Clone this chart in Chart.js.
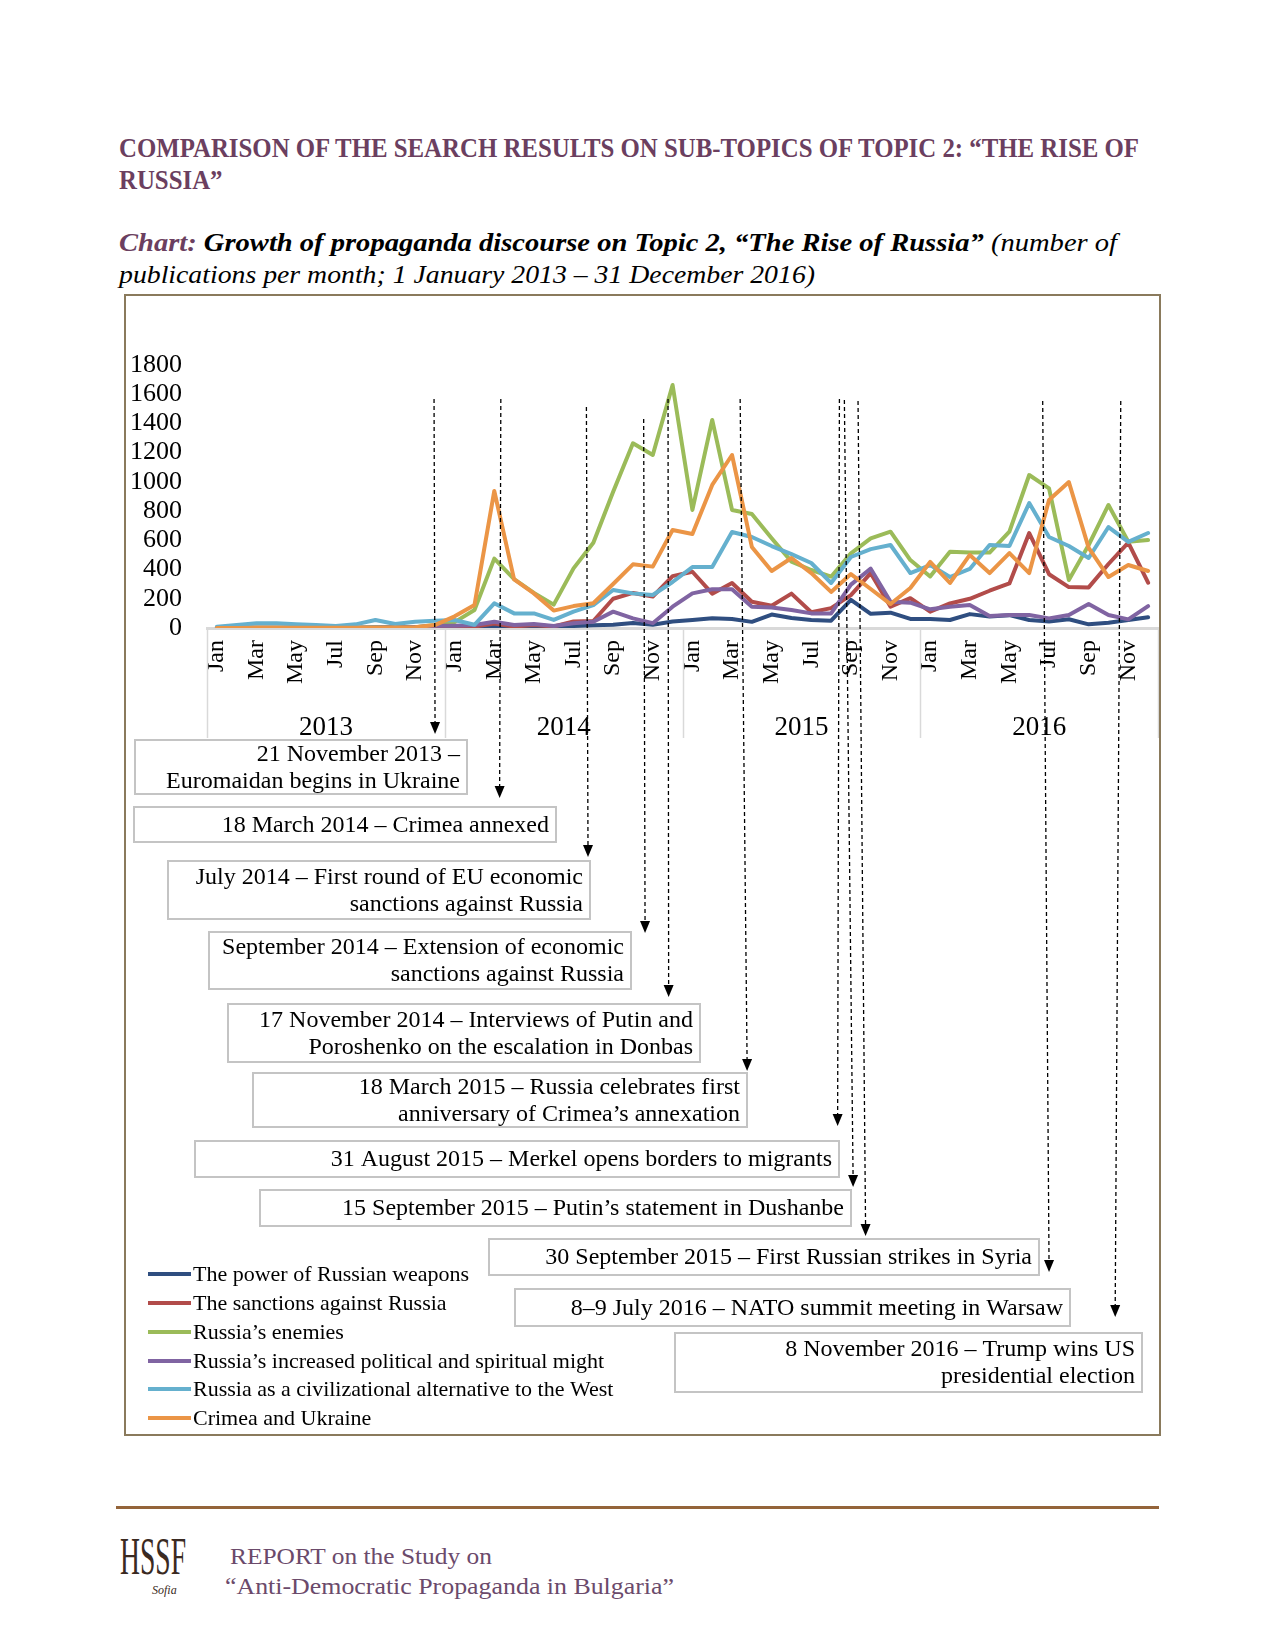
<!DOCTYPE html>
<html>
<head>
<meta charset="utf-8">
<script src="https://cdn.jsdelivr.net/npm/chart.js@4.4.1/dist/chart.umd.min.js"></script>
<style>
  body { margin: 0; background: #fff; width: 1275px; height: 1650px; position: relative; overflow: hidden; font-family: "Liberation Serif", serif; }
  .t { position: absolute; white-space: nowrap; transform-origin: 0 50%; }
  #box { position: absolute; left: 124px; top: 294px; width: 1037px; height: 1142px; border: 2px solid #8a7a5c; box-sizing: border-box; }
  #c { position: absolute; left: 126px; top: 296px; }
  #rule { position: absolute; left: 116px; top: 1506px; width: 1043px; height: 3px; background: #94643a; }
</style>
</head>
<body>
<div class="t" id="title1" data-w="1020" style="left:119px;top:131px;font:bold 27px/34px 'Liberation Serif';color:#6b3f60">COMPARISON OF THE SEARCH RESULTS ON SUB-TOPICS OF TOPIC 2: “THE RISE OF</div>
<div class="t" id="title2" data-ref="title1" style="left:119px;top:163px;font:bold 27px/34px 'Liberation Serif';color:#6b3f60">RUSSIA”</div>

<div class="t" data-w="998" style="left:119px;top:226px;font:italic 26px/34px 'Liberation Serif';color:#000"><b style="color:#6b3f60">Chart:</b> <b>Growth of propaganda discourse on Topic 2, “The Rise of Russia”</b> (number of</div>
<div class="t" data-w="696" style="left:119px;top:258px;font:italic 26px/34px 'Liberation Serif';color:#000">publications per month; 1 January 2013 – 31 December 2016)</div>

<div id="box"></div>
<canvas id="c" width="1033" height="1138"></canvas>

<div id="rule"></div>
<div class="t" data-w="66" style="left:120px;top:1530px;font:52px/54px 'Liberation Serif';color:#3a2a22">HSSF</div>
<div class="t" style="left:152px;top:1582px;font:italic 12px/16px 'Liberation Serif';color:#3a2a22">Sofia</div>
<div class="t" data-w="262" style="left:230px;top:1542px;font:23px/30px 'Liberation Serif';color:#6b4a6b">REPORT on the Study on</div>
<div class="t" data-w="449" style="left:225px;top:1572px;font:23px/30px 'Liberation Serif';color:#6b4a6b">“Anti-Democratic Propaganda in Bulgaria”</div>

<script>
// ---- data ----
const MONTHS = ['Jan', 'Feb', 'Mar', 'Apr', 'May', 'Jun', 'Jul', 'Aug', 'Sep', 'Oct', 'Nov', 'Dec'];
const YEARS = ['2013', '2014', '2015', '2016'];

const SERIES_NAMES = [
  'The power of Russian weapons',
  'The sanctions against Russia',
  'Russia’s enemies',
  'Russia’s increased political and spiritual might',
  'Russia as a civilizational alternative to the West',
  'Crimea and Ukraine'
];

const weapons = [2, 2, 2, 2, 2, 2, 2, 2, 3, 3, 3, 5,
  6, 6, 8, 10, 8, 8, 14, 18, 22, 35, 22, 45,
  55, 66, 62, 42, 92, 68, 55, 50, 192, 97, 105, 62,
  62, 55, 95, 78, 88, 55, 45, 60, 25, 36, 55, 73];

const sanctions = [2, 2, 2, 2, 2, 2, 2, 2, 2, 3, 3, 5,
  8, 10, 30, 10, 20, 10, 45, 48, 200, 240, 215, 355,
  385, 235, 308, 180, 152, 235, 108, 136, 225, 375, 146, 204,
  112, 168, 200, 255, 305, 650, 368, 280, 278, 438, 585, 310];

const enemies = [2, 2, 2, 2, 2, 2, 2, 2, 3, 3, 5, 20,
  40, 123, 475, 335, 240, 160, 408, 584, 933, 1264, 1184, 1663,
  808, 1424, 808, 780, 614, 454, 397, 351, 511, 614, 659, 465,
  353, 522, 516, 516, 659, 1047, 956, 329, 568, 842, 591, 602];

const might = [0, 0, 0, 0, 0, 0, 0, 0, 2, 3, 5, 15,
  16, 20, 43, 20, 27, 14, 32, 43, 112, 66, 33, 146,
  237, 265, 265, 146, 141, 123, 100, 100, 297, 406, 180, 173,
  128, 146, 157, 82, 89, 89, 66, 89, 164, 89, 59, 150];

const civilizational = [9, 20, 32, 32, 25, 20, 14, 25, 55, 27, 43, 50,
  55, 22, 169, 100, 100, 55, 112, 157, 260, 237, 226, 315,
  417, 417, 657, 623, 561, 506, 445, 308, 486, 540, 568, 376,
  431, 349, 404, 568, 561, 855, 623, 561, 479, 691, 589, 650];

const crimea = [0, 0, 2, 2, 2, 2, 2, 2, 2, 3, 5, 20,
  80, 157, 938, 333, 237, 119, 150, 169, 301, 436, 420, 671,
  643, 979, 1184, 555, 390, 479, 376, 247, 369, 267, 164, 274,
  452, 308, 500, 376, 513, 376, 876, 999, 548, 349, 431, 390];

const SERIES = [weapons, sanctions, enemies, might, civilizational, crimea];
const COLORS = ['#2F4E80', '#B24C4A', '#9BBB59', '#8064A2', '#65B0CE', '#EB9546'];

// events: text, and month position (fractional index) at the top and at the arrow tip
const EVENT_TEXT = [
  ['21 November 2013 –', 'Euromaidan begins in Ukraine'],
  ['18 March 2014 – Crimea annexed'],
  ['July 2014 – First round of EU economic', 'sanctions against Russia'],
  ['September 2014 – Extension of economic', 'sanctions against Russia'],
  ['17 November 2014 – Interviews of Putin and', 'Poroshenko on the escalation in Donbas'],
  ['18 March 2015 – Russia celebrates first', 'anniversary of Crimea’s annexation'],
  ['31 August 2015 – Merkel opens borders to migrants'],
  ['15 September 2015 – Putin’s statement in Dushanbe'],
  ['30 September 2015 – First Russian strikes in Syria'],
  ['8–9 July 2016 – NATO summit meeting in Warsaw'],
  ['8 November 2016 – Trump wins US', 'presidential election']
];
const EVENT_AT_TOP = [10.96, 14.33, 18.65, 21.54, 22.77, 26.41, 31.42, 31.67, 32.36, 41.68, 45.62];
const EVENT_AT_TIP = [11.01, 14.27, 18.73, 21.61, 22.80, 26.76, 31.33, 32.11, 32.74, 42.00, 45.34];

// ---- layout (canvas pixels) ----
const LINE_TOP = [103, 103, 111, 123, 103, 103, 103, 104, 105, 105, 105];
const LINE_TIP = [438, 502, 561, 637, 701, 775, 830, 891, 940, 976, 1021];
// box: left, top, right, bottom
const BOXES = [
  [9, 444, 341, 498], [8, 511, 430, 546], [42, 565, 464, 623], [83, 636, 505, 693],
  [102, 708, 574, 766], [127, 777, 621, 831], [69, 845, 713, 881], [134, 894, 725, 930],
  [363, 943, 913, 979], [389, 993, 944, 1030], [549, 1037, 1016, 1096]
];
const LEGEND_Y = [978, 1007, 1036, 1065, 1093, 1122];

const monthLabels = YEARS.flatMap(() => MONTHS);
const SERIF = '"Liberation Serif", serif';

const annotations = {
  id: 'annotations',
  afterDraw(chart) {
    const ctx = chart.ctx;
    const xs = chart.scales.x;
    const x2 = chart.scales.x2;
    const area = chart.chartArea;
    ctx.save();

    // year group separators
    ctx.strokeStyle = '#d9d9d9';
    ctx.lineWidth = 1.5;
    for (let k = 0; k <= YEARS.length; k++) {
      const px = Math.round(xs.getPixelForValue(k * 12 - 0.5)) + 0.5;
      ctx.beginPath();
      ctx.moveTo(px, area.bottom);
      ctx.lineTo(px, x2.bottom - 10);
      ctx.stroke();
    }

    // event boxes
    ctx.font = '24px ' + SERIF;
    ctx.textAlign = 'right';
    ctx.textBaseline = 'middle';
    BOXES.forEach((b, i) => {
      ctx.fillStyle = '#fff';
      ctx.fillRect(b[0], b[1], b[2] - b[0], b[3] - b[1]);
      ctx.strokeStyle = '#c4c4c4';
      ctx.lineWidth = 2;
      ctx.strokeRect(b[0], b[1], b[2] - b[0], b[3] - b[1]);
      ctx.fillStyle = '#000';
      const lines = EVENT_TEXT[i];
      const mid = (b[1] + b[3]) / 2;
      lines.forEach((txt, j) => {
        const y = lines.length === 1 ? mid : mid + (j - 0.5) * 27;
        ctx.fillText(txt, b[2] - 7, y + 1);
      });
    });

    // dashed arrows
    ctx.strokeStyle = '#000';
    ctx.fillStyle = '#000';
    ctx.lineWidth = 1.3;
    EVENT_AT_TOP.forEach((v, i) => {
      const xTop = xs.getPixelForValue(v);
      const xTip = xs.getPixelForValue(EVENT_AT_TIP[i]);
      const tip = LINE_TIP[i];
      ctx.setLineDash([4, 3]);
      ctx.beginPath();
      ctx.moveTo(xTop, LINE_TOP[i]);
      ctx.lineTo(xTip, tip - 10);
      ctx.stroke();
      ctx.setLineDash([]);
      ctx.beginPath();
      ctx.moveTo(xTip, tip);
      ctx.lineTo(xTip - 5, tip - 12);
      ctx.lineTo(xTip + 5, tip - 12);
      ctx.closePath();
      ctx.fill();
    });

    // legend
    ctx.font = '22px ' + SERIF;
    ctx.textAlign = 'left';
    chart.data.datasets.forEach((ds, i) => {
      const y = LEGEND_Y[i];
      ctx.strokeStyle = ds.borderColor;
      ctx.lineWidth = 4;
      ctx.beginPath();
      ctx.moveTo(22, y);
      ctx.lineTo(65, y);
      ctx.stroke();
      ctx.fillStyle = '#000';
      ctx.fillText(ds.label, 67, y + 1);
    });

    ctx.restore();
  }
};

// no extra side padding from the x axes, so the plot reaches the frame
const noSidePadding = s => { s.paddingLeft = 0; s.paddingRight = 0; };

new Chart(document.getElementById('c'), {
  type: 'line',
  data: {
    labels: monthLabels,
    datasets: SERIES.map((values, i) => ({
      label: SERIES_NAMES[i],
      data: values,
      borderColor: COLORS[i],
      backgroundColor: COLORS[i],
      order: SERIES.length - i
    }))
  },
  options: {
    responsive: false,
    animation: false,
    layout: { padding: { top: 69, right: 1, bottom: 686, left: 0 } },
    elements: {
      point: { radius: 0 },
      line: { tension: 0, borderWidth: 4, borderJoinStyle: 'round', borderCapStyle: 'round' }
    },
    plugins: { legend: { display: false }, tooltip: { enabled: false } },
    scales: {
      x: {
        offset: true,
        grid: { display: false, drawTicks: false },
        border: { display: true, color: '#d9d9d9', width: 3 },
        ticks: {
          autoSkip: false, minRotation: 90, maxRotation: 90, padding: 12,
          color: '#000', font: { family: SERIF, size: 24 },
          callback: (v, i) => (i % 2 === 0 ? monthLabels[i] : '')
        },
        afterFit: s => { s.height = 76; noSidePadding(s); }
      },
      x2: {
        type: 'category',
        labels: YEARS,
        position: 'bottom',
        offset: true,
        grid: { display: false, drawTicks: false },
        border: { display: false },
        ticks: { padding: 8, color: '#000', font: { family: SERIF, size: 27 } },
        afterFit: s => { s.height = 44; noSidePadding(s); }
      },
      y: {
        min: 0, max: 1800,
        grid: { display: false, drawTicks: false },
        border: { display: false },
        ticks: {
          stepSize: 200, autoSkip: false, padding: 25, color: '#000',
          font: { family: SERIF, size: 26 },
          callback: v => String(v)
        },
        afterFit: s => { s.width = 81; s.paddingTop = 0; s.paddingBottom = 0; }
      }
    }
  },
  plugins: [annotations]
});

// squeeze page texts to the widths of the original
const scales = {};
document.querySelectorAll('.t[data-w]').forEach(el => {
  const s = Number(el.dataset.w) / el.getBoundingClientRect().width;
  scales[el.id] = s;
  el.style.transform = 'scaleX(' + s + ')';
});
document.querySelectorAll('.t[data-ref]').forEach(el => {
  el.style.transform = 'scaleX(' + scales[el.dataset.ref] + ')';
});
</script>
</body>
</html>
